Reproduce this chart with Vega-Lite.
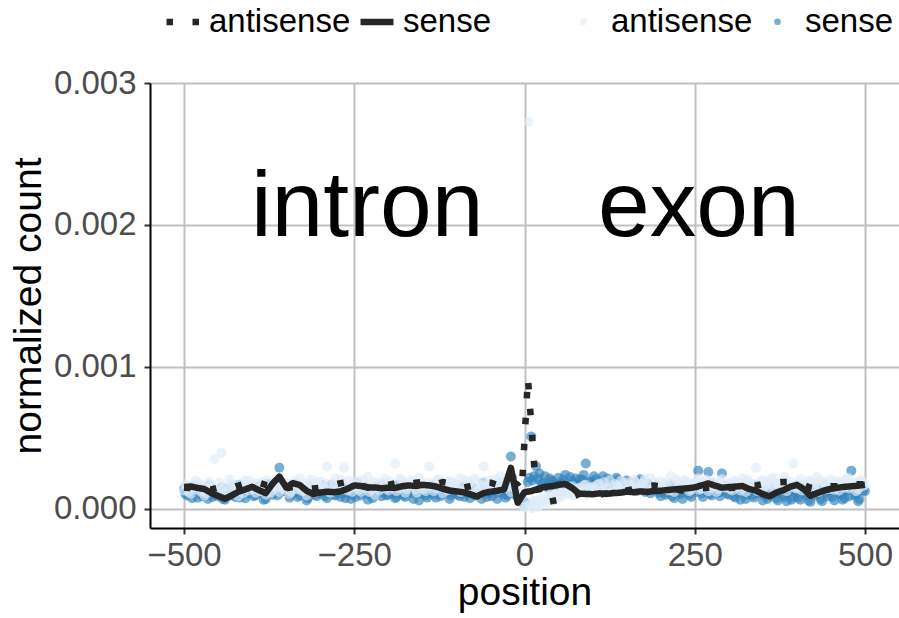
{
"$schema": "https://vega.github.io/schema/vega-lite/v6.json",
"width": 749, "height": 445,
"autosize": {"type": "none"},
"padding": {"left": 150, "top": 83, "right": 0, "bottom": 90},
"background": "white",
"config": {"view": {"stroke": null}, "font": "Liberation Sans"},
"datasets": {
"points": [
{"position":-500,"strand":"sense","count":0.00014},{"position":-495,"strand":"sense","count":0.000095},{"position":-490,"strand":"sense","count":0.00012},{"position":-485,"strand":"sense","count":0.00016},{"position":-480,"strand":"sense","count":0.00008},{"position":-475,"strand":"sense","count":0.00011},{"position":-470,"strand":"sense","count":0.000135},{"position":-465,"strand":"sense","count":0.00007},{"position":-460,"strand":"sense","count":0.000125},{"position":-455,"strand":"sense","count":0.0001},
{"position":-450,"strand":"sense","count":0.00009},{"position":-445,"strand":"sense","count":0.00015},{"position":-440,"strand":"sense","count":0.000065},{"position":-435,"strand":"sense","count":0.000115},{"position":-430,"strand":"sense","count":0.00013},{"position":-425,"strand":"sense","count":0.000085},{"position":-420,"strand":"sense","count":0.00017},{"position":-415,"strand":"sense","count":0.000105},{"position":-410,"strand":"sense","count":0.000075},{"position":-405,"strand":"sense","count":0.00014},
{"position":-400,"strand":"sense","count":0.00012},{"position":-395,"strand":"sense","count":0.000095},{"position":-390,"strand":"sense","count":0.00016},{"position":-385,"strand":"sense","count":0.00011},{"position":-380,"strand":"sense","count":0.00007},{"position":-375,"strand":"sense","count":0.000135},{"position":-370,"strand":"sense","count":0.0001},{"position":-365,"strand":"sense","count":0.000185},{"position":-360,"strand":"sense","count":0.00029},{"position":-355,"strand":"sense","count":0.000125},
{"position":-350,"strand":"sense","count":0.00015},{"position":-345,"strand":"sense","count":0.00008},{"position":-340,"strand":"sense","count":0.000115},{"position":-335,"strand":"sense","count":0.000175},{"position":-330,"strand":"sense","count":0.000095},{"position":-325,"strand":"sense","count":0.00013},{"position":-320,"strand":"sense","count":0.00006},{"position":-315,"strand":"sense","count":0.00012},{"position":-310,"strand":"sense","count":0.000145},{"position":-305,"strand":"sense","count":0.00009},
{"position":-300,"strand":"sense","count":0.00011},{"position":-295,"strand":"sense","count":0.000165},{"position":-290,"strand":"sense","count":0.000075},{"position":-285,"strand":"sense","count":0.000125},{"position":-280,"strand":"sense","count":0.0001},{"position":-275,"strand":"sense","count":0.00014},{"position":-270,"strand":"sense","count":0.000085},{"position":-265,"strand":"sense","count":0.000155},{"position":-260,"strand":"sense","count":0.000115},{"position":-255,"strand":"sense","count":0.00007},
{"position":-250,"strand":"sense","count":0.00013},{"position":-245,"strand":"sense","count":0.00018},{"position":-240,"strand":"sense","count":0.000095},{"position":-235,"strand":"sense","count":0.00012},{"position":-230,"strand":"sense","count":0.000065},{"position":-225,"strand":"sense","count":0.000145},{"position":-220,"strand":"sense","count":0.000105},{"position":-215,"strand":"sense","count":0.00016},{"position":-210,"strand":"sense","count":0.00009},{"position":-205,"strand":"sense","count":0.000125},
{"position":-200,"strand":"sense","count":0.0001},{"position":-195,"strand":"sense","count":0.000135},{"position":-190,"strand":"sense","count":0.000075},{"position":-185,"strand":"sense","count":0.00017},{"position":-180,"strand":"sense","count":0.000115},{"position":-175,"strand":"sense","count":0.000085},{"position":-170,"strand":"sense","count":0.00015},{"position":-165,"strand":"sense","count":0.00011},{"position":-160,"strand":"sense","count":0.00013},{"position":-155,"strand":"sense","count":0.00006},
{"position":-150,"strand":"sense","count":0.00014},{"position":-145,"strand":"sense","count":0.000095},{"position":-140,"strand":"sense","count":0.00012},{"position":-135,"strand":"sense","count":0.000165},{"position":-130,"strand":"sense","count":0.00008},{"position":-125,"strand":"sense","count":0.000125},{"position":-120,"strand":"sense","count":0.000105},{"position":-115,"strand":"sense","count":0.00015},{"position":-110,"strand":"sense","count":0.00007},{"position":-105,"strand":"sense","count":0.000115},
{"position":-100,"strand":"sense","count":0.000135},{"position":-95,"strand":"sense","count":0.00009},{"position":-90,"strand":"sense","count":0.00016},{"position":-85,"strand":"sense","count":0.00011},{"position":-80,"strand":"sense","count":0.000075},{"position":-75,"strand":"sense","count":0.000145},{"position":-70,"strand":"sense","count":0.0001},{"position":-65,"strand":"sense","count":0.000125},{"position":-60,"strand":"sense","count":0.000185},{"position":-55,"strand":"sense","count":0.000085},
{"position":-50,"strand":"sense","count":0.00012},{"position":-45,"strand":"sense","count":0.00015},{"position":-40,"strand":"sense","count":0.00007},{"position":-35,"strand":"sense","count":0.00013},{"position":-30,"strand":"sense","count":0.000105},{"position":-25,"strand":"sense","count":0.000095},{"position":-20,"strand":"sense","count":0.00037},{"position":-15,"strand":"sense","count":0.000115},{"position":-10,"strand":"sense","count":0.00008},{"position":-5,"strand":"sense","count":0.00005},
{"position":0,"strand":"sense","count":0.00003},{"position":5,"strand":"sense","count":0.00019},{"position":10,"strand":"sense","count":0.00051},{"position":17,"strand":"sense","count":0.0003},{"position":20,"strand":"sense","count":0.00021},{"position":25,"strand":"sense","count":0.000175},{"position":30,"strand":"sense","count":0.00023},{"position":35,"strand":"sense","count":0.00015},{"position":40,"strand":"sense","count":0.0002},{"position":45,"strand":"sense","count":0.000165},
{"position":50,"strand":"sense","count":0.00022},{"position":55,"strand":"sense","count":0.00018},{"position":60,"strand":"sense","count":0.00024},{"position":65,"strand":"sense","count":0.00016},{"position":70,"strand":"sense","count":0.000195},{"position":75,"strand":"sense","count":0.000215},{"position":80,"strand":"sense","count":0.00017},{"position":85,"strand":"sense","count":0.000205},{"position":90,"strand":"sense","count":0.00032},{"position":95,"strand":"sense","count":0.000185},
{"position":100,"strand":"sense","count":0.00015},{"position":105,"strand":"sense","count":0.00021},{"position":110,"strand":"sense","count":0.000175},{"position":115,"strand":"sense","count":0.00023},{"position":120,"strand":"sense","count":0.00014},{"position":125,"strand":"sense","count":0.000195},{"position":130,"strand":"sense","count":0.000165},{"position":135,"strand":"sense","count":0.00022},{"position":140,"strand":"sense","count":0.000185},{"position":145,"strand":"sense","count":0.00013},
{"position":150,"strand":"sense","count":0.0002},{"position":155,"strand":"sense","count":0.00016},{"position":160,"strand":"sense","count":0.000175},{"position":165,"strand":"sense","count":0.000125},{"position":170,"strand":"sense","count":0.00021},{"position":175,"strand":"sense","count":0.000145},{"position":180,"strand":"sense","count":0.00018},{"position":185,"strand":"sense","count":0.00011},{"position":190,"strand":"sense","count":0.000155},{"position":195,"strand":"sense","count":0.000135},
{"position":200,"strand":"sense","count":0.00009},{"position":205,"strand":"sense","count":0.00014},{"position":210,"strand":"sense","count":0.000115},{"position":215,"strand":"sense","count":0.000165},{"position":220,"strand":"sense","count":0.000075},{"position":225,"strand":"sense","count":0.00013},{"position":230,"strand":"sense","count":0.000105},{"position":235,"strand":"sense","count":0.00015},{"position":240,"strand":"sense","count":0.00012},{"position":245,"strand":"sense","count":0.000085},
{"position":250,"strand":"sense","count":0.000145},{"position":255,"strand":"sense","count":0.00027},{"position":260,"strand":"sense","count":0.00011},{"position":265,"strand":"sense","count":0.00013},{"position":270,"strand":"sense","count":0.00026},{"position":275,"strand":"sense","count":0.000095},{"position":280,"strand":"sense","count":0.00014},{"position":285,"strand":"sense","count":0.000115},{"position":290,"strand":"sense","count":0.00025},{"position":295,"strand":"sense","count":0.00016},
{"position":300,"strand":"sense","count":0.0001},{"position":305,"strand":"sense","count":0.000125},{"position":310,"strand":"sense","count":0.00008},{"position":315,"strand":"sense","count":0.00015},{"position":320,"strand":"sense","count":0.000115},{"position":325,"strand":"sense","count":0.00007},{"position":330,"strand":"sense","count":0.000135},{"position":335,"strand":"sense","count":0.000095},{"position":340,"strand":"sense","count":0.000165},{"position":345,"strand":"sense","count":0.00011},
{"position":350,"strand":"sense","count":0.00006},{"position":355,"strand":"sense","count":0.00013},{"position":360,"strand":"sense","count":0.00009},{"position":365,"strand":"sense","count":0.000145},{"position":370,"strand":"sense","count":0.000075},{"position":375,"strand":"sense","count":0.00012},{"position":380,"strand":"sense","count":0.0001},{"position":385,"strand":"sense","count":0.000055},{"position":390,"strand":"sense","count":0.00014},{"position":395,"strand":"sense","count":0.000085},
{"position":400,"strand":"sense","count":0.000115},{"position":405,"strand":"sense","count":0.000065},{"position":410,"strand":"sense","count":0.00015},{"position":415,"strand":"sense","count":0.000095},{"position":420,"strand":"sense","count":0.00005},{"position":425,"strand":"sense","count":0.00013},{"position":430,"strand":"sense","count":0.000105},{"position":435,"strand":"sense","count":0.00007},{"position":440,"strand":"sense","count":0.00016},{"position":445,"strand":"sense","count":0.00009},
{"position":450,"strand":"sense","count":0.00012},{"position":455,"strand":"sense","count":0.00006},{"position":460,"strand":"sense","count":0.000145},{"position":465,"strand":"sense","count":0.0001},{"position":470,"strand":"sense","count":0.000075},{"position":475,"strand":"sense","count":0.000135},{"position":480,"strand":"sense","count":0.00027},{"position":485,"strand":"sense","count":0.000095},{"position":490,"strand":"sense","count":0.000055},{"position":495,"strand":"sense","count":0.00015},
{"position":500,"strand":"sense","count":0.000125},
{"position":-498,"strand":"sense","count":0.000105},{"position":-493,"strand":"sense","count":0.00015},{"position":-488,"strand":"sense","count":0.000075},{"position":-483,"strand":"sense","count":0.000125},{"position":-478,"strand":"sense","count":0.000145},{"position":-473,"strand":"sense","count":0.00009},{"position":-468,"strand":"sense","count":0.000115},{"position":-463,"strand":"sense","count":0.000165},{"position":-458,"strand":"sense","count":0.000085},{"position":-453,"strand":"sense","count":0.00013},
{"position":-448,"strand":"sense","count":0.00011},{"position":-443,"strand":"sense","count":0.00007},{"position":-438,"strand":"sense","count":0.00014},{"position":-433,"strand":"sense","count":0.000095},{"position":-428,"strand":"sense","count":0.00016},{"position":-423,"strand":"sense","count":0.00012},{"position":-418,"strand":"sense","count":0.00008},{"position":-413,"strand":"sense","count":0.000135},{"position":-408,"strand":"sense","count":0.000105},{"position":-403,"strand":"sense","count":0.00015},
{"position":-398,"strand":"sense","count":0.00009},{"position":-393,"strand":"sense","count":0.000145},{"position":-388,"strand":"sense","count":0.000115},{"position":-383,"strand":"sense","count":0.000065},{"position":-378,"strand":"sense","count":0.000175},{"position":-373,"strand":"sense","count":0.00013},{"position":-368,"strand":"sense","count":0.00015},{"position":-363,"strand":"sense","count":0.000095},{"position":-358,"strand":"sense","count":0.00012},{"position":-353,"strand":"sense","count":0.00014},
{"position":-348,"strand":"sense","count":0.000125},{"position":-343,"strand":"sense","count":0.0001},{"position":-338,"strand":"sense","count":0.00016},{"position":-333,"strand":"sense","count":0.000085},{"position":-328,"strand":"sense","count":0.00014},{"position":-323,"strand":"sense","count":0.00011},{"position":-318,"strand":"sense","count":0.000075},{"position":-313,"strand":"sense","count":0.000155},{"position":-308,"strand":"sense","count":0.0001},{"position":-303,"strand":"sense","count":0.00013},
{"position":-298,"strand":"sense","count":0.000145},{"position":-293,"strand":"sense","count":0.00009},{"position":-288,"strand":"sense","count":0.00012},{"position":-283,"strand":"sense","count":0.00017},{"position":-278,"strand":"sense","count":0.000095},{"position":-273,"strand":"sense","count":0.00013},{"position":-268,"strand":"sense","count":0.00011},{"position":-263,"strand":"sense","count":0.000075},{"position":-258,"strand":"sense","count":0.00015},{"position":-253,"strand":"sense","count":0.000105},
{"position":-248,"strand":"sense","count":0.000085},{"position":-243,"strand":"sense","count":0.00014},{"position":-238,"strand":"sense","count":0.000115},{"position":-233,"strand":"sense","count":0.000155},{"position":-228,"strand":"sense","count":0.0001},{"position":-223,"strand":"sense","count":0.000075},{"position":-218,"strand":"sense","count":0.000135},{"position":-213,"strand":"sense","count":0.00012},{"position":-208,"strand":"sense","count":0.000165},{"position":-203,"strand":"sense","count":0.000095},
{"position":-198,"strand":"sense","count":0.00015},{"position":-193,"strand":"sense","count":0.00011},{"position":-188,"strand":"sense","count":0.000085},{"position":-183,"strand":"sense","count":0.00013},{"position":-178,"strand":"sense","count":0.000095},{"position":-173,"strand":"sense","count":0.00016},{"position":-168,"strand":"sense","count":0.00012},{"position":-163,"strand":"sense","count":0.00007},{"position":-158,"strand":"sense","count":0.00014},{"position":-153,"strand":"sense","count":0.000105},
{"position":-148,"strand":"sense","count":0.000115},{"position":-143,"strand":"sense","count":0.00008},{"position":-138,"strand":"sense","count":0.00015},{"position":-133,"strand":"sense","count":0.0001},{"position":-128,"strand":"sense","count":0.000135},{"position":-123,"strand":"sense","count":0.00009},{"position":-118,"strand":"sense","count":0.00017},{"position":-113,"strand":"sense","count":0.00012},{"position":-108,"strand":"sense","count":0.000095},{"position":-103,"strand":"sense","count":0.00014},
{"position":-98,"strand":"sense","count":0.0001},{"position":-93,"strand":"sense","count":0.000125},{"position":-88,"strand":"sense","count":0.000085},{"position":-83,"strand":"sense","count":0.000155},{"position":-78,"strand":"sense","count":0.00013},{"position":-73,"strand":"sense","count":0.000095},{"position":-68,"strand":"sense","count":0.000115},{"position":-63,"strand":"sense","count":0.00007},{"position":-58,"strand":"sense","count":0.00014},{"position":-53,"strand":"sense","count":0.00011},
{"position":-48,"strand":"sense","count":0.00009},{"position":-43,"strand":"sense","count":0.00013},{"position":-38,"strand":"sense","count":0.000115},{"position":-33,"strand":"sense","count":0.00016},{"position":-28,"strand":"sense","count":0.00008},{"position":-23,"strand":"sense","count":0.00014},{"position":-18,"strand":"sense","count":0.00022},{"position":-13,"strand":"sense","count":0.0001},{"position":-8,"strand":"sense","count":0.000065},{"position":-3,"strand":"sense","count":0.00006},
{"position":2,"strand":"sense","count":0.00004},{"position":7,"strand":"sense","count":0.00022},{"position":12,"strand":"sense","count":0.0002},{"position":22,"strand":"sense","count":0.00025},{"position":27,"strand":"sense","count":0.000185},{"position":32,"strand":"sense","count":0.00016},{"position":37,"strand":"sense","count":0.000215},{"position":42,"strand":"sense","count":0.00019},{"position":47,"strand":"sense","count":0.00017},{"position":14,"strand":"sense","count":0.00023},
{"position":52,"strand":"sense","count":0.000175},{"position":57,"strand":"sense","count":0.000205},{"position":62,"strand":"sense","count":0.00016},{"position":67,"strand":"sense","count":0.000225},{"position":72,"strand":"sense","count":0.000185},{"position":77,"strand":"sense","count":0.00015},{"position":82,"strand":"sense","count":0.00021},{"position":87,"strand":"sense","count":0.00024},{"position":92,"strand":"sense","count":0.000165},{"position":97,"strand":"sense","count":0.000195},
{"position":102,"strand":"sense","count":0.00023},{"position":107,"strand":"sense","count":0.00017},{"position":112,"strand":"sense","count":0.000195},{"position":117,"strand":"sense","count":0.00015},{"position":122,"strand":"sense","count":0.000215},{"position":127,"strand":"sense","count":0.00018},{"position":132,"strand":"sense","count":0.00014},{"position":137,"strand":"sense","count":0.000205},{"position":142,"strand":"sense","count":0.00016},{"position":147,"strand":"sense","count":0.00019},
{"position":152,"strand":"sense","count":0.000145},{"position":157,"strand":"sense","count":0.000185},{"position":162,"strand":"sense","count":0.00013},{"position":167,"strand":"sense","count":0.000195},{"position":172,"strand":"sense","count":0.000165},{"position":177,"strand":"sense","count":0.00012},{"position":182,"strand":"sense","count":0.000175},{"position":187,"strand":"sense","count":0.00014},{"position":192,"strand":"sense","count":0.00016},{"position":197,"strand":"sense","count":0.000115},
{"position":202,"strand":"sense","count":0.000125},{"position":207,"strand":"sense","count":0.0001},{"position":212,"strand":"sense","count":0.000155},{"position":217,"strand":"sense","count":0.00009},{"position":222,"strand":"sense","count":0.00014},{"position":227,"strand":"sense","count":0.000115},{"position":232,"strand":"sense","count":0.00007},{"position":237,"strand":"sense","count":0.000135},{"position":242,"strand":"sense","count":0.0001},{"position":247,"strand":"sense","count":0.000145},
{"position":252,"strand":"sense","count":0.00012},{"position":257,"strand":"sense","count":0.00016},{"position":262,"strand":"sense","count":0.000085},{"position":267,"strand":"sense","count":0.000145},{"position":272,"strand":"sense","count":0.000105},{"position":277,"strand":"sense","count":0.000175},{"position":282,"strand":"sense","count":0.00013},{"position":287,"strand":"sense","count":0.00009},{"position":292,"strand":"sense","count":0.00014},{"position":297,"strand":"sense","count":0.00011},
{"position":302,"strand":"sense","count":0.000145},{"position":307,"strand":"sense","count":0.00009},{"position":312,"strand":"sense","count":0.00012},{"position":317,"strand":"sense","count":0.000065},{"position":322,"strand":"sense","count":0.000135},{"position":327,"strand":"sense","count":0.0001},{"position":332,"strand":"sense","count":0.000155},{"position":337,"strand":"sense","count":0.00008},{"position":342,"strand":"sense","count":0.000115},{"position":347,"strand":"sense","count":0.00014},
{"position":352,"strand":"sense","count":0.000095},{"position":357,"strand":"sense","count":0.00007},{"position":362,"strand":"sense","count":0.000125},{"position":367,"strand":"sense","count":0.00011},{"position":372,"strand":"sense","count":0.00006},{"position":377,"strand":"sense","count":0.00015},{"position":382,"strand":"sense","count":0.000085},{"position":387,"strand":"sense","count":0.000115},{"position":392,"strand":"sense","count":0.000065},{"position":397,"strand":"sense","count":0.00013},
{"position":402,"strand":"sense","count":0.00008},{"position":407,"strand":"sense","count":0.00014},{"position":412,"strand":"sense","count":0.000105},{"position":417,"strand":"sense","count":0.00006},{"position":422,"strand":"sense","count":0.000125},{"position":427,"strand":"sense","count":0.000095},{"position":432,"strand":"sense","count":0.000145},{"position":437,"strand":"sense","count":0.000055},{"position":442,"strand":"sense","count":0.00011},{"position":447,"strand":"sense","count":0.00013},
{"position":452,"strand":"sense","count":0.000085},{"position":457,"strand":"sense","count":0.00015},{"position":462,"strand":"sense","count":0.00011},{"position":467,"strand":"sense","count":0.000065},{"position":472,"strand":"sense","count":0.000125},{"position":477,"strand":"sense","count":0.00009},{"position":482,"strand":"sense","count":0.00014},{"position":487,"strand":"sense","count":0.000105},{"position":492,"strand":"sense","count":0.00007},{"position":497,"strand":"sense","count":0.00013},
{"position":-500,"strand":"antisense","count":0.00013},{"position":-495,"strand":"antisense","count":0.000165},{"position":-490,"strand":"antisense","count":0.000105},{"position":-485,"strand":"antisense","count":0.00015},{"position":-480,"strand":"antisense","count":0.000185},{"position":-475,"strand":"antisense","count":0.00012},{"position":-470,"strand":"antisense","count":0.000095},{"position":-465,"strand":"antisense","count":0.000145},{"position":-460,"strand":"antisense","count":0.00017},{"position":-455,"strand":"antisense","count":0.00035},
{"position":-450,"strand":"antisense","count":0.000125},{"position":-445,"strand":"antisense","count":0.000395},{"position":-440,"strand":"antisense","count":0.00016},{"position":-435,"strand":"antisense","count":0.00011},{"position":-430,"strand":"antisense","count":0.00018},{"position":-425,"strand":"antisense","count":0.00014},{"position":-420,"strand":"antisense","count":0.00009},{"position":-415,"strand":"antisense","count":0.000155},{"position":-410,"strand":"antisense","count":0.0002},{"position":-405,"strand":"antisense","count":0.00013},
{"position":-400,"strand":"antisense","count":0.00017},{"position":-395,"strand":"antisense","count":0.000115},{"position":-390,"strand":"antisense","count":0.000145},{"position":-385,"strand":"antisense","count":0.00019},{"position":-380,"strand":"antisense","count":0.0001},{"position":-375,"strand":"antisense","count":0.00016},{"position":-370,"strand":"antisense","count":0.000135},{"position":-365,"strand":"antisense","count":0.00021},{"position":-360,"strand":"antisense","count":0.00012},{"position":-355,"strand":"antisense","count":0.00015},
{"position":-350,"strand":"antisense","count":0.000185},{"position":-345,"strand":"antisense","count":0.000105},{"position":-340,"strand":"antisense","count":0.000165},{"position":-335,"strand":"antisense","count":0.00014},{"position":-330,"strand":"antisense","count":0.000215},{"position":-325,"strand":"antisense","count":0.000125},{"position":-320,"strand":"antisense","count":0.000095},{"position":-315,"strand":"antisense","count":0.000175},{"position":-310,"strand":"antisense","count":0.00015},{"position":-305,"strand":"antisense","count":0.00019},
{"position":-300,"strand":"antisense","count":0.000135},{"position":-295,"strand":"antisense","count":0.00016},{"position":-290,"strand":"antisense","count":0.0003},{"position":-285,"strand":"antisense","count":0.000115},{"position":-280,"strand":"antisense","count":0.00018},{"position":-275,"strand":"antisense","count":0.000145},{"position":-270,"strand":"antisense","count":0.000205},{"position":-265,"strand":"antisense","count":0.00029},{"position":-260,"strand":"antisense","count":0.00013},{"position":-255,"strand":"antisense","count":0.00017},
{"position":-250,"strand":"antisense","count":0.000155},{"position":-245,"strand":"antisense","count":0.000195},{"position":-240,"strand":"antisense","count":0.00012},{"position":-235,"strand":"antisense","count":0.000165},{"position":-230,"strand":"antisense","count":0.000225},{"position":-225,"strand":"antisense","count":0.00014},{"position":-220,"strand":"antisense","count":0.0001},{"position":-215,"strand":"antisense","count":0.000185},{"position":-210,"strand":"antisense","count":0.00015},{"position":-205,"strand":"antisense","count":0.00021},
{"position":-200,"strand":"antisense","count":0.00013},{"position":-195,"strand":"antisense","count":0.000175},{"position":-190,"strand":"antisense","count":0.00032},{"position":-185,"strand":"antisense","count":0.000145},{"position":-180,"strand":"antisense","count":0.0002},{"position":-175,"strand":"antisense","count":0.000115},{"position":-170,"strand":"antisense","count":0.000165},{"position":-165,"strand":"antisense","count":0.00019},{"position":-160,"strand":"antisense","count":0.000135},{"position":-155,"strand":"antisense","count":0.00022},
{"position":-150,"strand":"antisense","count":0.00016},{"position":-145,"strand":"antisense","count":0.000125},{"position":-140,"strand":"antisense","count":0.0003},{"position":-135,"strand":"antisense","count":0.00018},{"position":-130,"strand":"antisense","count":0.000145},{"position":-125,"strand":"antisense","count":0.000205},{"position":-120,"strand":"antisense","count":0.00011},{"position":-115,"strand":"antisense","count":0.00017},{"position":-110,"strand":"antisense","count":0.000195},{"position":-105,"strand":"antisense","count":0.00014},
{"position":-100,"strand":"antisense","count":0.000175},{"position":-95,"strand":"antisense","count":0.000215},{"position":-90,"strand":"antisense","count":0.00013},{"position":-85,"strand":"antisense","count":0.00016},{"position":-80,"strand":"antisense","count":0.00019},{"position":-75,"strand":"antisense","count":0.00012},{"position":-70,"strand":"antisense","count":0.000185},{"position":-65,"strand":"antisense","count":0.00015},{"position":-60,"strand":"antisense","count":0.0003},{"position":-55,"strand":"antisense","count":0.000165},
{"position":-50,"strand":"antisense","count":0.0002},{"position":-45,"strand":"antisense","count":0.00014},{"position":-40,"strand":"antisense","count":0.000175},{"position":-35,"strand":"antisense","count":0.00023},{"position":-30,"strand":"antisense","count":0.000155},{"position":-25,"strand":"antisense","count":0.00019},{"position":-20,"strand":"antisense","count":0.00012},{"position":-15,"strand":"antisense","count":0.00017},{"position":-10,"strand":"antisense","count":0.000135},{"position":-5,"strand":"antisense","count":0.00009},
{"position":0,"strand":"antisense","count":0.00001},{"position":6,"strand":"antisense","count":0.002725},{"position":10,"strand":"antisense","count":0.00004},{"position":15,"strand":"antisense","count":0.00006},{"position":20,"strand":"antisense","count":0.000015},{"position":25,"strand":"antisense","count":0.000075},{"position":30,"strand":"antisense","count":0.00005},{"position":35,"strand":"antisense","count":0.00009},{"position":40,"strand":"antisense","count":0.00011},{"position":45,"strand":"antisense","count":0.00008},
{"position":50,"strand":"antisense","count":0.00012},{"position":55,"strand":"antisense","count":0.000095},{"position":60,"strand":"antisense","count":0.00014},{"position":65,"strand":"antisense","count":0.000105},{"position":70,"strand":"antisense","count":0.00016},{"position":75,"strand":"antisense","count":0.000125},{"position":80,"strand":"antisense","count":0.00015},{"position":85,"strand":"antisense","count":0.000115},{"position":90,"strand":"antisense","count":0.00017},{"position":95,"strand":"antisense","count":0.000135},
{"position":100,"strand":"antisense","count":0.000155},{"position":105,"strand":"antisense","count":0.00011},{"position":110,"strand":"antisense","count":0.00018},{"position":115,"strand":"antisense","count":0.00013},{"position":120,"strand":"antisense","count":0.000145},{"position":125,"strand":"antisense","count":0.0002},{"position":130,"strand":"antisense","count":0.00012},{"position":135,"strand":"antisense","count":0.000165},{"position":140,"strand":"antisense","count":0.00014},{"position":145,"strand":"antisense","count":0.000185},
{"position":150,"strand":"antisense","count":0.000125},{"position":155,"strand":"antisense","count":0.00017},{"position":160,"strand":"antisense","count":0.00021},{"position":165,"strand":"antisense","count":0.000145},{"position":170,"strand":"antisense","count":0.00016},{"position":175,"strand":"antisense","count":0.00019},{"position":180,"strand":"antisense","count":0.000135},{"position":185,"strand":"antisense","count":0.00022},{"position":190,"strand":"antisense","count":0.000155},{"position":195,"strand":"antisense","count":0.000175},
{"position":200,"strand":"antisense","count":0.000195},{"position":205,"strand":"antisense","count":0.00014},{"position":210,"strand":"antisense","count":0.000165},{"position":215,"strand":"antisense","count":0.00023},{"position":220,"strand":"antisense","count":0.00012},{"position":225,"strand":"antisense","count":0.000185},{"position":230,"strand":"antisense","count":0.00015},{"position":235,"strand":"antisense","count":0.000205},{"position":240,"strand":"antisense","count":0.00017},{"position":245,"strand":"antisense","count":0.000135},
{"position":250,"strand":"antisense","count":0.00016},{"position":255,"strand":"antisense","count":0.000215},{"position":260,"strand":"antisense","count":0.000145},{"position":265,"strand":"antisense","count":0.00018},{"position":270,"strand":"antisense","count":0.000125},{"position":275,"strand":"antisense","count":0.000195},{"position":280,"strand":"antisense","count":0.000165},{"position":285,"strand":"antisense","count":0.00014},{"position":290,"strand":"antisense","count":0.00021},{"position":295,"strand":"antisense","count":0.00015},
{"position":300,"strand":"antisense","count":0.000175},{"position":305,"strand":"antisense","count":0.00013},{"position":310,"strand":"antisense","count":0.00019},{"position":315,"strand":"antisense","count":0.000155},{"position":320,"strand":"antisense","count":0.000215},{"position":325,"strand":"antisense","count":0.00012},{"position":330,"strand":"antisense","count":0.000185},{"position":335,"strand":"antisense","count":0.00016},{"position":340,"strand":"antisense","count":0.00029},{"position":345,"strand":"antisense","count":0.00014},
{"position":350,"strand":"antisense","count":0.0002},{"position":355,"strand":"antisense","count":0.000165},{"position":360,"strand":"antisense","count":0.000135},{"position":365,"strand":"antisense","count":0.00022},{"position":370,"strand":"antisense","count":0.00018},{"position":375,"strand":"antisense","count":0.00015},{"position":380,"strand":"antisense","count":0.000195},{"position":385,"strand":"antisense","count":0.000125},{"position":390,"strand":"antisense","count":0.00017},{"position":395,"strand":"antisense","count":0.00032},
{"position":400,"strand":"antisense","count":0.000145},{"position":405,"strand":"antisense","count":0.00021},{"position":410,"strand":"antisense","count":0.000175},{"position":415,"strand":"antisense","count":0.00013},{"position":420,"strand":"antisense","count":0.00019},{"position":425,"strand":"antisense","count":0.00016},{"position":430,"strand":"antisense","count":0.000225},{"position":435,"strand":"antisense","count":0.00014},{"position":440,"strand":"antisense","count":0.000185},{"position":445,"strand":"antisense","count":0.000155},
{"position":450,"strand":"antisense","count":0.000205},{"position":455,"strand":"antisense","count":0.000135},{"position":460,"strand":"antisense","count":0.00017},{"position":465,"strand":"antisense","count":0.000195},{"position":470,"strand":"antisense","count":0.00015},{"position":475,"strand":"antisense","count":0.00022},{"position":480,"strand":"antisense","count":0.000165},{"position":485,"strand":"antisense","count":0.000185},{"position":490,"strand":"antisense","count":0.00014},{"position":495,"strand":"antisense","count":0.0002},
{"position":500,"strand":"antisense","count":0.000175},
{"position":-498,"strand":"antisense","count":0.000175},{"position":-493,"strand":"antisense","count":0.00012},{"position":-488,"strand":"antisense","count":0.000155},{"position":-483,"strand":"antisense","count":0.0002},{"position":-478,"strand":"antisense","count":0.000135},{"position":-473,"strand":"antisense","count":0.000165},{"position":-468,"strand":"antisense","count":0.00011},{"position":-463,"strand":"antisense","count":0.00019},{"position":-458,"strand":"antisense","count":0.00015},{"position":-453,"strand":"antisense","count":0.000125},
{"position":-448,"strand":"antisense","count":0.000185},{"position":-443,"strand":"antisense","count":0.000145},{"position":-438,"strand":"antisense","count":0.00012},{"position":-433,"strand":"antisense","count":0.000205},{"position":-428,"strand":"antisense","count":0.000165},{"position":-423,"strand":"antisense","count":0.00013},{"position":-418,"strand":"antisense","count":0.000175},{"position":-413,"strand":"antisense","count":0.00011},{"position":-408,"strand":"antisense","count":0.00016},{"position":-403,"strand":"antisense","count":0.000195},
{"position":-398,"strand":"antisense","count":0.00014},{"position":-393,"strand":"antisense","count":0.00018},{"position":-388,"strand":"antisense","count":0.000125},{"position":-383,"strand":"antisense","count":0.00016},{"position":-378,"strand":"antisense","count":0.0002},{"position":-373,"strand":"antisense","count":0.000115},{"position":-368,"strand":"antisense","count":0.00017},{"position":-363,"strand":"antisense","count":0.00015},{"position":-358,"strand":"antisense","count":0.000185},{"position":-353,"strand":"antisense","count":0.000135},
{"position":-348,"strand":"antisense","count":0.00016},{"position":-343,"strand":"antisense","count":0.00012},{"position":-338,"strand":"antisense","count":0.000195},{"position":-333,"strand":"antisense","count":0.00017},{"position":-328,"strand":"antisense","count":0.00013},{"position":-323,"strand":"antisense","count":0.00018},{"position":-318,"strand":"antisense","count":0.000145},{"position":-313,"strand":"antisense","count":0.000205},{"position":-308,"strand":"antisense","count":0.000115},{"position":-303,"strand":"antisense","count":0.000165},
{"position":-298,"strand":"antisense","count":0.00019},{"position":-293,"strand":"antisense","count":0.00014},{"position":-288,"strand":"antisense","count":0.000175},{"position":-283,"strand":"antisense","count":0.000125},{"position":-278,"strand":"antisense","count":0.000215},{"position":-273,"strand":"antisense","count":0.00016},{"position":-268,"strand":"antisense","count":0.000135},{"position":-263,"strand":"antisense","count":0.00018},{"position":-258,"strand":"antisense","count":0.0002},{"position":-253,"strand":"antisense","count":0.00012},
{"position":-248,"strand":"antisense","count":0.00018},{"position":-243,"strand":"antisense","count":0.000135},{"position":-238,"strand":"antisense","count":0.000205},{"position":-233,"strand":"antisense","count":0.00015},{"position":-228,"strand":"antisense","count":0.00012},{"position":-223,"strand":"antisense","count":0.00019},{"position":-218,"strand":"antisense","count":0.000165},{"position":-213,"strand":"antisense","count":0.00013},{"position":-208,"strand":"antisense","count":0.000175},{"position":-203,"strand":"antisense","count":0.000145},
{"position":-198,"strand":"antisense","count":0.000195},{"position":-193,"strand":"antisense","count":0.00015},{"position":-188,"strand":"antisense","count":0.000125},{"position":-183,"strand":"antisense","count":0.000215},{"position":-178,"strand":"antisense","count":0.00017},{"position":-173,"strand":"antisense","count":0.00014},{"position":-168,"strand":"antisense","count":0.0002},{"position":-163,"strand":"antisense","count":0.00016},{"position":-158,"strand":"antisense","count":0.000115},{"position":-153,"strand":"antisense","count":0.000185},
{"position":-148,"strand":"antisense","count":0.00014},{"position":-143,"strand":"antisense","count":0.000185},{"position":-138,"strand":"antisense","count":0.00016},{"position":-133,"strand":"antisense","count":0.000125},{"position":-128,"strand":"antisense","count":0.00021},{"position":-123,"strand":"antisense","count":0.00015},{"position":-118,"strand":"antisense","count":0.000175},{"position":-113,"strand":"antisense","count":0.00013},{"position":-108,"strand":"antisense","count":0.00019},{"position":-103,"strand":"antisense","count":0.000165},
{"position":-98,"strand":"antisense","count":0.00015},{"position":-93,"strand":"antisense","count":0.00012},{"position":-88,"strand":"antisense","count":0.000205},{"position":-83,"strand":"antisense","count":0.000175},{"position":-78,"strand":"antisense","count":0.00014},{"position":-73,"strand":"antisense","count":0.000215},{"position":-68,"strand":"antisense","count":0.00013},{"position":-63,"strand":"antisense","count":0.000165},{"position":-58,"strand":"antisense","count":0.000195},{"position":-53,"strand":"antisense","count":0.00014},
{"position":-48,"strand":"antisense","count":0.00017},{"position":-43,"strand":"antisense","count":0.00021},{"position":-38,"strand":"antisense","count":0.000135},{"position":-33,"strand":"antisense","count":0.00019},{"position":-28,"strand":"antisense","count":0.00015},{"position":-23,"strand":"antisense","count":0.000225},{"position":-18,"strand":"antisense","count":0.00016},{"position":-13,"strand":"antisense","count":0.00014},{"position":-8,"strand":"antisense","count":0.00011},{"position":-3,"strand":"antisense","count":0.00007},
{"position":2,"strand":"antisense","count":0.000015},{"position":7,"strand":"antisense","count":0.00003},{"position":12,"strand":"antisense","count":0.000005},{"position":17,"strand":"antisense","count":0.000045},{"position":22,"strand":"antisense","count":0.000025},{"position":27,"strand":"antisense","count":0.00006},{"position":32,"strand":"antisense","count":0.000035},{"position":37,"strand":"antisense","count":0.00007},{"position":42,"strand":"antisense","count":0.000055},{"position":47,"strand":"antisense","count":0.000095},
{"position":52,"strand":"antisense","count":0.000085},{"position":57,"strand":"antisense","count":0.00013},{"position":62,"strand":"antisense","count":0.00011},{"position":67,"strand":"antisense","count":0.00015},{"position":72,"strand":"antisense","count":0.000095},{"position":77,"strand":"antisense","count":0.00014},{"position":82,"strand":"antisense","count":0.00012},{"position":87,"strand":"antisense","count":0.000165},{"position":92,"strand":"antisense","count":0.0001},{"position":97,"strand":"antisense","count":0.00015},
{"position":102,"strand":"antisense","count":0.000135},{"position":107,"strand":"antisense","count":0.00017},{"position":112,"strand":"antisense","count":0.000125},{"position":117,"strand":"antisense","count":0.00019},{"position":122,"strand":"antisense","count":0.00015},{"position":127,"strand":"antisense","count":0.000115},{"position":132,"strand":"antisense","count":0.000175},{"position":137,"strand":"antisense","count":0.00016},{"position":142,"strand":"antisense","count":0.0002},{"position":147,"strand":"antisense","count":0.00013},
{"position":152,"strand":"antisense","count":0.000185},{"position":157,"strand":"antisense","count":0.00015},{"position":162,"strand":"antisense","count":0.000195},{"position":167,"strand":"antisense","count":0.00013},{"position":172,"strand":"antisense","count":0.000175},{"position":177,"strand":"antisense","count":0.00021},{"position":182,"strand":"antisense","count":0.00016},{"position":187,"strand":"antisense","count":0.00014},{"position":192,"strand":"antisense","count":0.00019},{"position":197,"strand":"antisense","count":0.000165},
{"position":202,"strand":"antisense","count":0.00015},{"position":207,"strand":"antisense","count":0.000185},{"position":212,"strand":"antisense","count":0.00013},{"position":217,"strand":"antisense","count":0.000175},{"position":222,"strand":"antisense","count":0.00021},{"position":227,"strand":"antisense","count":0.000145},{"position":232,"strand":"antisense","count":0.000165},{"position":237,"strand":"antisense","count":0.00019},{"position":242,"strand":"antisense","count":0.000125},{"position":247,"strand":"antisense","count":0.00018},
{"position":252,"strand":"antisense","count":0.000185},{"position":257,"strand":"antisense","count":0.000135},{"position":262,"strand":"antisense","count":0.00017},{"position":267,"strand":"antisense","count":0.000205},{"position":272,"strand":"antisense","count":0.00015},{"position":277,"strand":"antisense","count":0.00018},{"position":282,"strand":"antisense","count":0.00012},{"position":287,"strand":"antisense","count":0.000195},{"position":292,"strand":"antisense","count":0.00016},{"position":297,"strand":"antisense","count":0.000175},
{"position":302,"strand":"antisense","count":0.00014},{"position":307,"strand":"antisense","count":0.0002},{"position":312,"strand":"antisense","count":0.000165},{"position":317,"strand":"antisense","count":0.00013},{"position":322,"strand":"antisense","count":0.000185},{"position":327,"strand":"antisense","count":0.00021},{"position":332,"strand":"antisense","count":0.000145},{"position":337,"strand":"antisense","count":0.000175},{"position":342,"strand":"antisense","count":0.000125},{"position":347,"strand":"antisense","count":0.000195},
{"position":352,"strand":"antisense","count":0.00016},{"position":357,"strand":"antisense","count":0.000185},{"position":362,"strand":"antisense","count":0.00021},{"position":367,"strand":"antisense","count":0.000145},{"position":372,"strand":"antisense","count":0.00017},{"position":377,"strand":"antisense","count":0.000135},{"position":382,"strand":"antisense","count":0.000225},{"position":387,"strand":"antisense","count":0.00016},{"position":392,"strand":"antisense","count":0.00019},{"position":397,"strand":"antisense","count":0.00015},
{"position":402,"strand":"antisense","count":0.00018},{"position":407,"strand":"antisense","count":0.00013},{"position":412,"strand":"antisense","count":0.000165},{"position":417,"strand":"antisense","count":0.0002},{"position":422,"strand":"antisense","count":0.000145},{"position":427,"strand":"antisense","count":0.000185},{"position":432,"strand":"antisense","count":0.00012},{"position":437,"strand":"antisense","count":0.000195},{"position":442,"strand":"antisense","count":0.00017},{"position":447,"strand":"antisense","count":0.00014},
{"position":452,"strand":"antisense","count":0.00016},{"position":457,"strand":"antisense","count":0.000195},{"position":462,"strand":"antisense","count":0.00013},{"position":467,"strand":"antisense","count":0.00018},{"position":472,"strand":"antisense","count":0.00021},{"position":477,"strand":"antisense","count":0.000145},{"position":482,"strand":"antisense","count":0.000175},{"position":487,"strand":"antisense","count":0.000125},{"position":492,"strand":"antisense","count":0.00019},{"position":497,"strand":"antisense","count":0.00016}
],
"lines": [
{"position":-500,"series":"sense","count":0.000155},{"position":-490,"series":"sense","count":0.000158},{"position":-480,"series":"sense","count":0.000148},{"position":-470,"series":"sense","count":0.00014},{"position":-460,"series":"sense","count":0.000112},{"position":-450,"series":"sense","count":0.000092},{"position":-440,"series":"sense","count":0.000072},{"position":-430,"series":"sense","count":0.000095},{"position":-420,"series":"sense","count":0.000122},{"position":-410,"series":"sense","count":0.000138},
{"position":-400,"series":"sense","count":0.000156},{"position":-390,"series":"sense","count":0.000132},{"position":-380,"series":"sense","count":0.000112},{"position":-370,"series":"sense","count":0.000178},{"position":-360,"series":"sense","count":0.000228},{"position":-350,"series":"sense","count":0.000152},{"position":-340,"series":"sense","count":0.000182},{"position":-330,"series":"sense","count":0.000168},{"position":-320,"series":"sense","count":0.000128},{"position":-310,"series":"sense","count":0.000104},
{"position":-300,"series":"sense","count":0.000116},{"position":-290,"series":"sense","count":0.000122},{"position":-280,"series":"sense","count":0.000118},{"position":-270,"series":"sense","count":0.000124},{"position":-260,"series":"sense","count":0.000142},{"position":-250,"series":"sense","count":0.000166},{"position":-240,"series":"sense","count":0.000162},{"position":-230,"series":"sense","count":0.00015},{"position":-220,"series":"sense","count":0.000152},{"position":-210,"series":"sense","count":0.000146},
{"position":-200,"series":"sense","count":0.00015},{"position":-190,"series":"sense","count":0.000148},{"position":-180,"series":"sense","count":0.00016},{"position":-170,"series":"sense","count":0.000166},{"position":-160,"series":"sense","count":0.000162},{"position":-150,"series":"sense","count":0.00017},{"position":-140,"series":"sense","count":0.000166},{"position":-130,"series":"sense","count":0.000158},{"position":-120,"series":"sense","count":0.000142},{"position":-110,"series":"sense","count":0.00013},
{"position":-100,"series":"sense","count":0.000124},{"position":-90,"series":"sense","count":0.000118},{"position":-80,"series":"sense","count":0.000104},{"position":-70,"series":"sense","count":0.000088},{"position":-60,"series":"sense","count":0.000112},{"position":-50,"series":"sense","count":0.000122},{"position":-40,"series":"sense","count":0.000128},{"position":-30,"series":"sense","count":0.000138},{"position":-20,"series":"sense","count":0.00029},{"position":-10,"series":"sense","count":0.000045},
{"position":0,"series":"sense","count":0.000118},{"position":10,"series":"sense","count":0.000126},{"position":20,"series":"sense","count":0.000142},{"position":30,"series":"sense","count":0.000156},{"position":40,"series":"sense","count":0.00016},{"position":50,"series":"sense","count":0.00017},{"position":60,"series":"sense","count":0.000176},{"position":70,"series":"sense","count":0.000148},{"position":80,"series":"sense","count":0.000108},{"position":90,"series":"sense","count":0.000106},
{"position":100,"series":"sense","count":0.000104},{"position":110,"series":"sense","count":0.00011},{"position":120,"series":"sense","count":0.000106},{"position":130,"series":"sense","count":0.000112},{"position":140,"series":"sense","count":0.000114},{"position":150,"series":"sense","count":0.000122},{"position":160,"series":"sense","count":0.000118},{"position":170,"series":"sense","count":0.000124},{"position":180,"series":"sense","count":0.00012},{"position":190,"series":"sense","count":0.000126},
{"position":200,"series":"sense","count":0.000128},{"position":210,"series":"sense","count":0.000134},{"position":220,"series":"sense","count":0.000138},{"position":230,"series":"sense","count":0.000142},{"position":240,"series":"sense","count":0.000146},{"position":250,"series":"sense","count":0.000152},{"position":260,"series":"sense","count":0.000166},{"position":270,"series":"sense","count":0.00018},{"position":280,"series":"sense","count":0.000164},{"position":290,"series":"sense","count":0.00015},
{"position":300,"series":"sense","count":0.000154},{"position":310,"series":"sense","count":0.000158},{"position":320,"series":"sense","count":0.000162},{"position":330,"series":"sense","count":0.00014},{"position":340,"series":"sense","count":0.00013},{"position":350,"series":"sense","count":0.000104},{"position":360,"series":"sense","count":0.00009},{"position":370,"series":"sense","count":0.000116},{"position":380,"series":"sense","count":0.000132},{"position":390,"series":"sense","count":0.000156},
{"position":400,"series":"sense","count":0.00017},{"position":410,"series":"sense","count":0.00014},{"position":420,"series":"sense","count":0.000094},{"position":430,"series":"sense","count":0.000112},{"position":440,"series":"sense","count":0.00013},{"position":450,"series":"sense","count":0.000142},{"position":460,"series":"sense","count":0.00015},{"position":470,"series":"sense","count":0.000156},{"position":480,"series":"sense","count":0.00016},{"position":490,"series":"sense","count":0.000164},
{"position":500,"series":"sense","count":0.00017},
{"position":-500,"series":"antisense","count":0.00015},{"position":-490,"series":"antisense","count":0.000148},{"position":-480,"series":"antisense","count":0.000145},{"position":-470,"series":"antisense","count":0.00014},{"position":-460,"series":"antisense","count":0.000138},{"position":-450,"series":"antisense","count":0.00015},{"position":-440,"series":"antisense","count":0.000152},{"position":-430,"series":"antisense","count":0.00015},{"position":-420,"series":"antisense","count":0.000165},{"position":-410,"series":"antisense","count":0.00018},
{"position":-400,"series":"antisense","count":0.00019},{"position":-390,"series":"antisense","count":0.000185},{"position":-380,"series":"antisense","count":0.00017},{"position":-370,"series":"antisense","count":0.00016},{"position":-360,"series":"antisense","count":0.00015},{"position":-350,"series":"antisense","count":0.000145},{"position":-340,"series":"antisense","count":0.000155},{"position":-330,"series":"antisense","count":0.00015},{"position":-320,"series":"antisense","count":0.00014},{"position":-310,"series":"antisense","count":0.000145},
{"position":-300,"series":"antisense","count":0.00015},{"position":-290,"series":"antisense","count":0.00016},{"position":-280,"series":"antisense","count":0.00017},{"position":-270,"series":"antisense","count":0.000182},{"position":-260,"series":"antisense","count":0.00019},{"position":-250,"series":"antisense","count":0.00018},{"position":-240,"series":"antisense","count":0.000165},{"position":-230,"series":"antisense","count":0.000152},{"position":-220,"series":"antisense","count":0.00015},{"position":-210,"series":"antisense","count":0.00016},
{"position":-200,"series":"antisense","count":0.00017},{"position":-190,"series":"antisense","count":0.00018},{"position":-180,"series":"antisense","count":0.000175},{"position":-170,"series":"antisense","count":0.00017},{"position":-160,"series":"antisense","count":0.000185},{"position":-150,"series":"antisense","count":0.00019},{"position":-140,"series":"antisense","count":0.00018},{"position":-130,"series":"antisense","count":0.000175},{"position":-120,"series":"antisense","count":0.00019},{"position":-110,"series":"antisense","count":0.00018},
{"position":-100,"series":"antisense","count":0.000165},{"position":-90,"series":"antisense","count":0.00015},{"position":-80,"series":"antisense","count":0.00016},{"position":-70,"series":"antisense","count":0.00017},{"position":-60,"series":"antisense","count":0.00019},{"position":-50,"series":"antisense","count":0.000185},{"position":-40,"series":"antisense","count":0.00017},{"position":-30,"series":"antisense","count":0.000175},{"position":-20,"series":"antisense","count":0.0002},{"position":-10,"series":"antisense","count":0.00017},
{"position":-4,"series":"antisense","count":0.00013},{"position":5,"series":"antisense","count":0.000925},{"position":15,"series":"antisense","count":0.00026},{"position":25,"series":"antisense","count":0.00004},{"position":40,"series":"antisense","count":0.000055},{"position":50,"series":"antisense","count":0.000065},{"position":60,"series":"antisense","count":0.00007},{"position":70,"series":"antisense","count":0.000085},{"position":80,"series":"antisense","count":0.000105},{"position":90,"series":"antisense","count":0.00011},
{"position":100,"series":"antisense","count":0.000105},{"position":110,"series":"antisense","count":0.0001},{"position":120,"series":"antisense","count":0.00011},{"position":130,"series":"antisense","count":0.0001},{"position":140,"series":"antisense","count":0.000115},{"position":150,"series":"antisense","count":0.00013},{"position":160,"series":"antisense","count":0.00014},{"position":170,"series":"antisense","count":0.00015},{"position":180,"series":"antisense","count":0.00016},{"position":190,"series":"antisense","count":0.000165},
{"position":200,"series":"antisense","count":0.00016},{"position":210,"series":"antisense","count":0.00015},{"position":220,"series":"antisense","count":0.00014},{"position":230,"series":"antisense","count":0.00013},{"position":240,"series":"antisense","count":0.000135},{"position":250,"series":"antisense","count":0.00014},{"position":260,"series":"antisense","count":0.000145},{"position":270,"series":"antisense","count":0.00015},{"position":280,"series":"antisense","count":0.000155},{"position":290,"series":"antisense","count":0.00015},
{"position":300,"series":"antisense","count":0.000148},{"position":310,"series":"antisense","count":0.00015},{"position":320,"series":"antisense","count":0.000155},{"position":330,"series":"antisense","count":0.00016},{"position":340,"series":"antisense","count":0.000165},{"position":350,"series":"antisense","count":0.000175},{"position":360,"series":"antisense","count":0.00018},{"position":370,"series":"antisense","count":0.000185},{"position":380,"series":"antisense","count":0.00019},{"position":390,"series":"antisense","count":0.00019},
{"position":400,"series":"antisense","count":0.000185},{"position":410,"series":"antisense","count":0.00017},{"position":420,"series":"antisense","count":0.00015},{"position":430,"series":"antisense","count":0.00014},{"position":440,"series":"antisense","count":0.00015},{"position":450,"series":"antisense","count":0.00016},{"position":460,"series":"antisense","count":0.00016},{"position":470,"series":"antisense","count":0.000165},{"position":480,"series":"antisense","count":0.00017},{"position":490,"series":"antisense","count":0.000175},
{"position":500,"series":"antisense","count":0.000175}
],
"labels": [
{"position":-231,"count":0.00192,"label":"intron"},
{"position":256,"count":0.00192,"label":"exon"}
]
},
"layer": [
{
"data": {"name": "points"},
"mark": {"type": "circle", "size": 100, "opacity": 0.65},
"encoding": {
"x": {"field": "position", "type": "quantitative",
 "scale": {"domain": [-550, 550], "nice": false, "zero": false},
 "axis": {"values": [-500, -250, 0, 250, 500], "format": "d", "title": "position",
  "grid": true, "gridColor": "#c0c0c0", "gridWidth": 2,
  "domainColor": "black", "domainWidth": 2, "tickColor": "#333333", "tickWidth": 2, "tickSize": 6,
  "labelFontSize": 33, "labelColor": "#4d4d4d", "labelPadding": 5, "labelFlush": false,
  "titleFontSize": 39, "titleColor": "black", "titleFontWeight": "normal", "titlePadding": 1}},
"y": {"field": "count", "type": "quantitative",
 "scale": {"domain": [-0.000134, 0.003], "nice": false, "zero": false},
 "axis": {"values": [0, 0.001, 0.002, 0.003], "format": ".3f", "title": "normalized count",
  "grid": true, "gridColor": "#c0c0c0", "gridWidth": 2,
  "domainColor": "black", "domainWidth": 2, "tickColor": "#333333", "tickWidth": 2, "tickSize": 6,
  "labelFontSize": 33, "labelColor": "#4d4d4d", "labelPadding": 8, "labelFlush": false,
  "titleFontSize": 39, "titleColor": "black", "titleFontWeight": "normal", "titlePadding": 5}},
"color": {"field": "strand", "type": "nominal",
 "scale": {"domain": ["antisense", "sense"], "range": ["#deebf7", "#3182bd"]},
 "legend": {"title": null, "orient": "none", "legendX": 417, "legendY": -78, "direction": "horizontal",
  "symbolType": "circle", "symbolSize": 45, "labelFontSize": 33, "labelColor": "black",
  "labelOffset": 11, "columnPadding": 8}}
}
},
{
"data": {"name": "lines"},
"mark": {"type": "line", "color": "#262626", "strokeWidth": 6.5, "strokeCap": "butt", "strokeJoin": "round"},
"encoding": {
"x": {"field": "position", "type": "quantitative"},
"y": {"field": "count", "type": "quantitative"},
"strokeDash": {"field": "series", "type": "nominal",
 "scale": {"domain": ["sense", "antisense"], "range": [[1, 0], [6.5, 19.5]]},
 "legend": {"title": null, "orient": "none", "legendX": 13, "legendY": -81, "direction": "horizontal",
  "values": ["antisense", "sense"],
  "symbolType": "stroke", "symbolSize": 1089, "symbolStrokeWidth": 6.5, "symbolStrokeColor": "#262626",
  "labelFontSize": 33, "labelColor": "black", "labelOffset": 6, "columnPadding": -4}}
}
},
{
"data": {"name": "labels"},
"mark": {"type": "text", "fontSize": 93, "baseline": "alphabetic", "align": "center", "color": "black"},
"encoding": {
"x": {"field": "position", "type": "quantitative"},
"y": {"field": "count", "type": "quantitative"},
"text": {"field": "label", "type": "nominal"}
}
}
]
}
